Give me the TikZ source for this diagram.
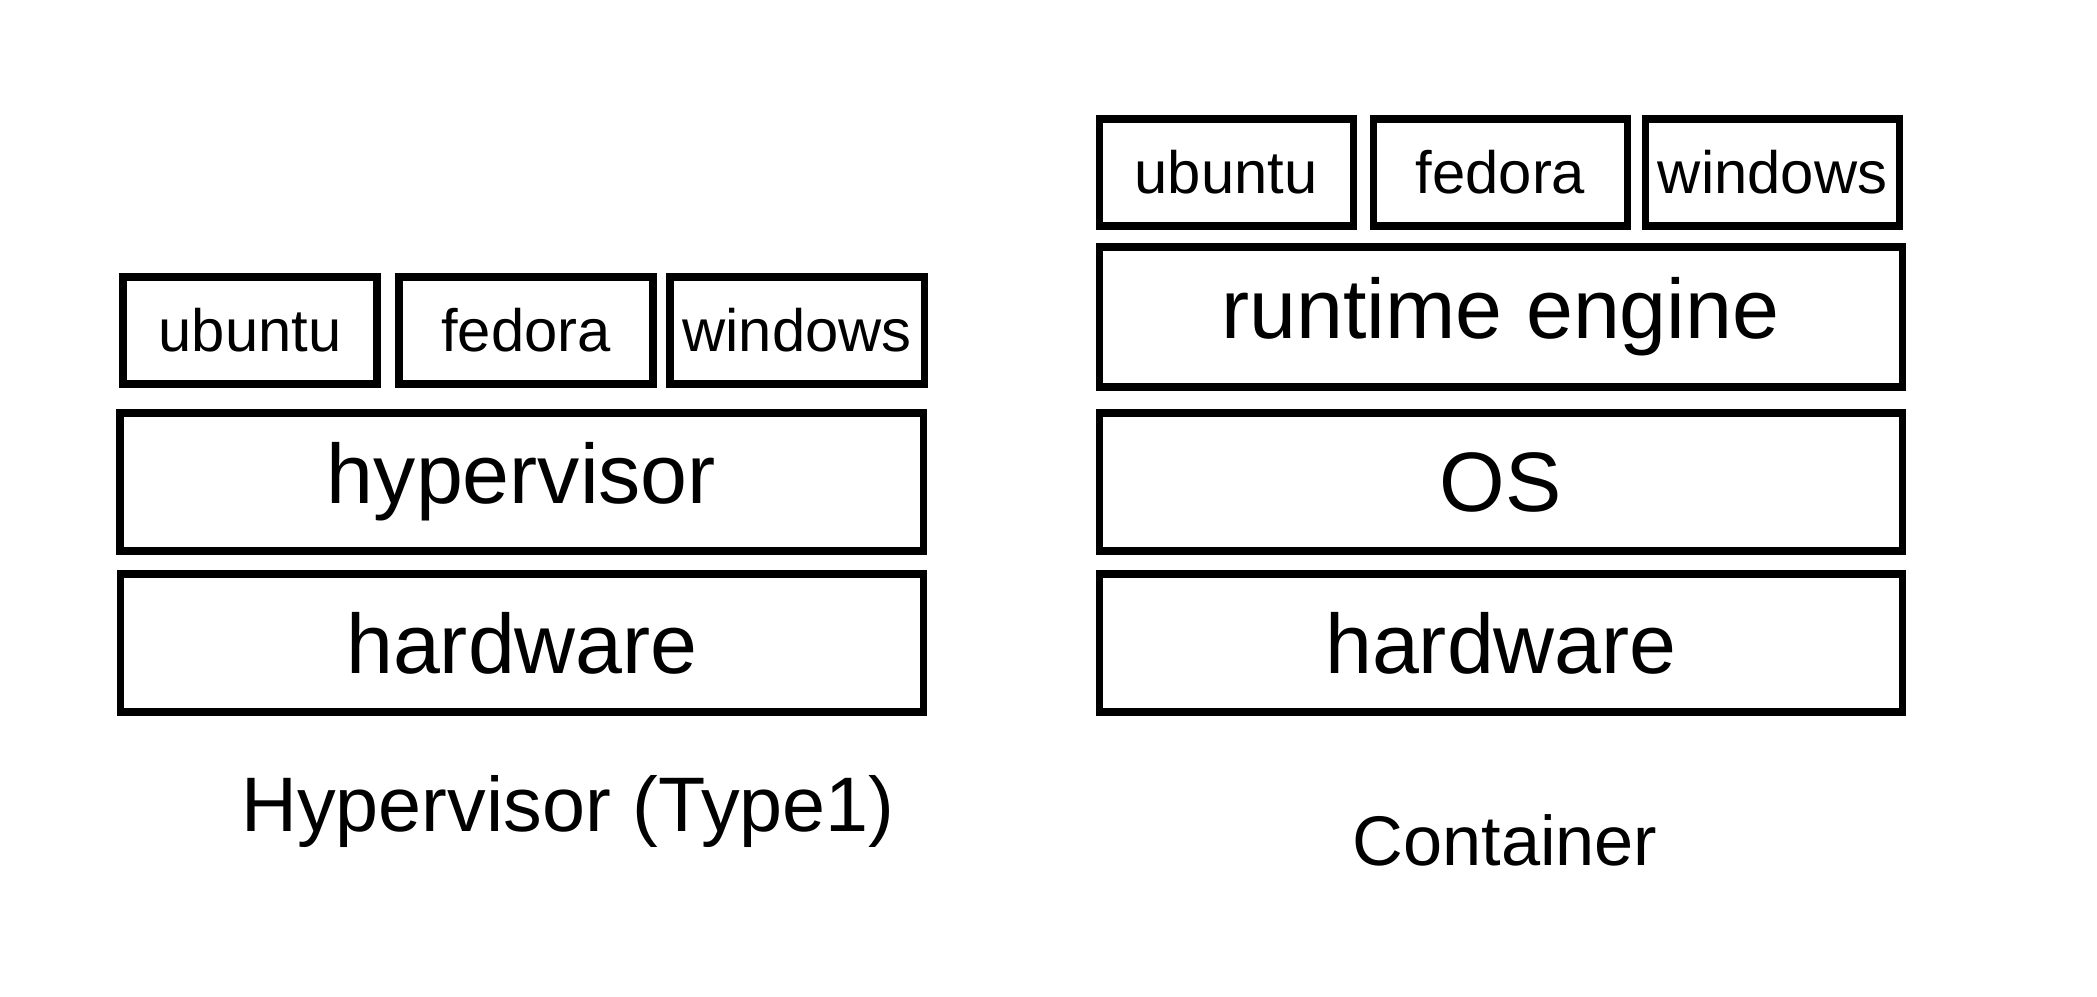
\documentclass[tikz,border=0pt]{standalone}
\usepackage{fontspec}
\setmainfont{Liberation Sans}
\begin{document}
\begin{tikzpicture}[
        layer/.style={draw, line width=2pt, inner sep=0pt, minimum width=8.03cm, minimum height=1.38cm, font=\fontsize{24}{28}\selectfont},
        guest/.style={draw, line width=2pt, inner sep=0pt, minimum width=2.54cm, minimum height=1.07cm, font=\fontsize{17}{20}\selectfont},
        caption/.style={font=\fontsize{22}{26}\selectfont}]
        \useasboundingbox (0,0) rectangle (20.97,9.96);

        % Hypervisor stack
        \node[guest] (hvUbuntu) at (2.50,6.655) {ubuntu};
        \node[guest] (hvFedora) at (5.26,6.655) {fedora};
        \node[guest] (hvWindows) at (7.97,6.655) {windows};
        \node[layer] (hvHyper) at (5.215,5.14) {hypervisor};
        \node[layer] (hvHw) at (5.22,3.53) {hardware};

        % Container stack
        \node[guest] (ctUbuntu) at (12.26,8.235) {ubuntu};
        \node[guest] (ctFedora) at (15.005,8.235) {fedora};
        \node[guest] (ctWindows) at (17.725,8.235) {windows};
        \node[layer, minimum height=1.40cm] (ctEngine) at (15.005,6.79) {runtime engine};
        \node[layer] (ctOS) at (15.005,5.14) {OS};
        \node[layer] (ctHw) at (15.01,3.53) {hardware};

        % Captions
        \node[caption] (hvLabel) at (5.68,1.84) {Hypervisor (Type1)};
        \node[caption, font=\fontsize{20}{24}\selectfont] (ctLabel) at (15.05,1.56) {Container};
    \end{tikzpicture}
\end{document}
